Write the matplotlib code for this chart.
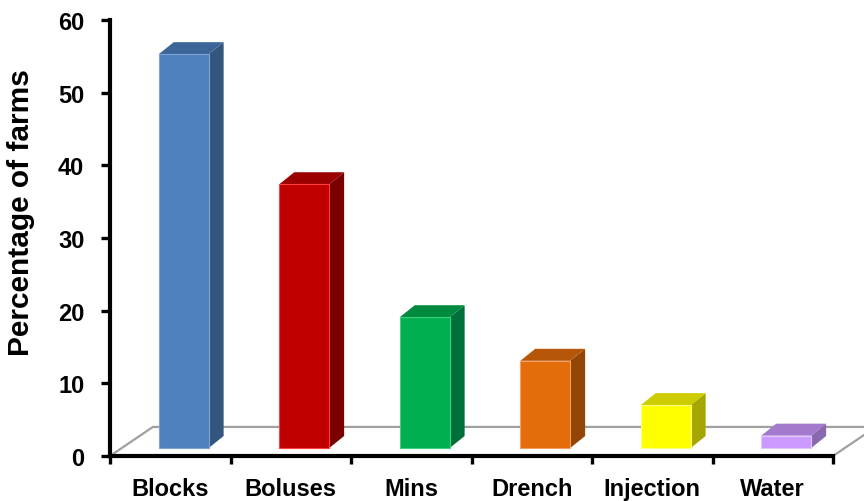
import matplotlib
matplotlib.use('Agg')
import matplotlib.pyplot as plt
from matplotlib.patches import Polygon, Rectangle

# ---- data ----
categories = ['Blocks', 'Boluses', 'Mins', 'Drench', 'Injection', 'Water']
values = [54.2, 36.3, 18.0, 12.0, 5.9, 1.7]
yticks = [0, 10, 20, 30, 40, 50, 60]
ylabel = 'Percentage of farms'

front_colors = ['#4F81BD', '#C00000', '#00B050', '#E46C0A', '#FFFF00', '#CC99FF']
top_colors = ['#3D6698', '#9A0000', '#008A3E', '#B65608', '#CCCC00', '#A37ACC']
side_colors = ['#33557E', '#7A0000', '#00703A', '#934506', '#A6A600', '#8A68AD']
edge_colors = ['#7FA3D3', '#FF4040', '#40D080', '#F5A060', '#FFFF80', '#E0C8FF']

# ---- geometry (style constants, data units) ----
FLOOR_DX, FLOOR_DY = 0.356, 4.0
BAR_W = 0.414
BAR_XS = 0.112
BAR_BASE = 1.1
BAR_DX, BAR_DY = 0.124, 1.65

plt.rcParams['font.family'] = ['Liberation Sans', 'DejaVu Sans']
plt.rcParams['font.weight'] = 'bold'

fig = plt.figure(figsize=(8.64, 5.02), dpi=100)
ax = fig.add_axes([110 / 864, 45 / 502, 723 / 864, 436 / 502])
n = len(categories)
ax.set_xlim(-0.5, n - 0.5)
ax.set_ylim(0, 60)

# floor
floor = Polygon([(-0.5, 0), (-0.5 + FLOOR_DX, FLOOR_DY),
                 (n - 0.5 + FLOOR_DX, FLOOR_DY), (n - 0.5, 0)],
                closed=True, facecolor='none', edgecolor='#A0A0A0',
                lw=1.6, clip_on=False, zorder=1)
ax.add_patch(floor)

# bars
for i, v in enumerate(values):
    x0 = i - BAR_W / 2 + BAR_XS
    y0 = BAR_BASE
    side = Polygon([(x0 + BAR_W, y0), (x0 + BAR_W + BAR_DX, y0 + BAR_DY),
                    (x0 + BAR_W + BAR_DX, y0 + v + BAR_DY), (x0 + BAR_W, y0 + v)],
                   closed=True, facecolor=side_colors[i], edgecolor='none',
                   clip_on=False, zorder=2)
    top = Polygon([(x0, y0 + v), (x0 + BAR_DX, y0 + v + BAR_DY),
                   (x0 + BAR_W + BAR_DX, y0 + v + BAR_DY), (x0 + BAR_W, y0 + v)],
                  closed=True, facecolor=top_colors[i], edgecolor='none',
                  clip_on=False, zorder=2)
    front = Rectangle((x0, y0), BAR_W, v, facecolor=front_colors[i],
                      edgecolor=edge_colors[i], lw=0.8, clip_on=False, zorder=3)
    ax.add_patch(side)
    ax.add_patch(top)
    ax.add_patch(front)

# axes styling
for s in ['top', 'right']:
    ax.spines[s].set_visible(False)
for s in ['left', 'bottom']:
    ax.spines[s].set_linewidth(3)
    ax.spines[s].set_color('black')
    ax.spines[s].set_zorder(5)

ax.set_yticks(yticks)
ax.set_yticklabels([str(t) for t in yticks])
ax.tick_params(axis='y', direction='out', length=6.5, width=2.4, pad=12,
               labelsize=17)

ax.set_xticks([i - 0.5 for i in range(n + 1)])
ax.set_xticklabels([])
ax.tick_params(axis='x', which='major', direction='out', length=6, width=2.4)
ax.set_xticks(list(range(n)), minor=True)
ax.set_xticklabels(categories, minor=True)
ax.tick_params(axis='x', which='minor', length=0, pad=15, labelsize=17)

ax.set_ylabel(ylabel, fontsize=21.5, fontweight='bold')
ax.yaxis.set_label_coords(-0.104, 0.56)

for lab in ax.get_xticklabels(minor=True) + ax.get_yticklabels():
    lab.set_fontweight('bold')

fig.savefig('out.png', dpi=100)
